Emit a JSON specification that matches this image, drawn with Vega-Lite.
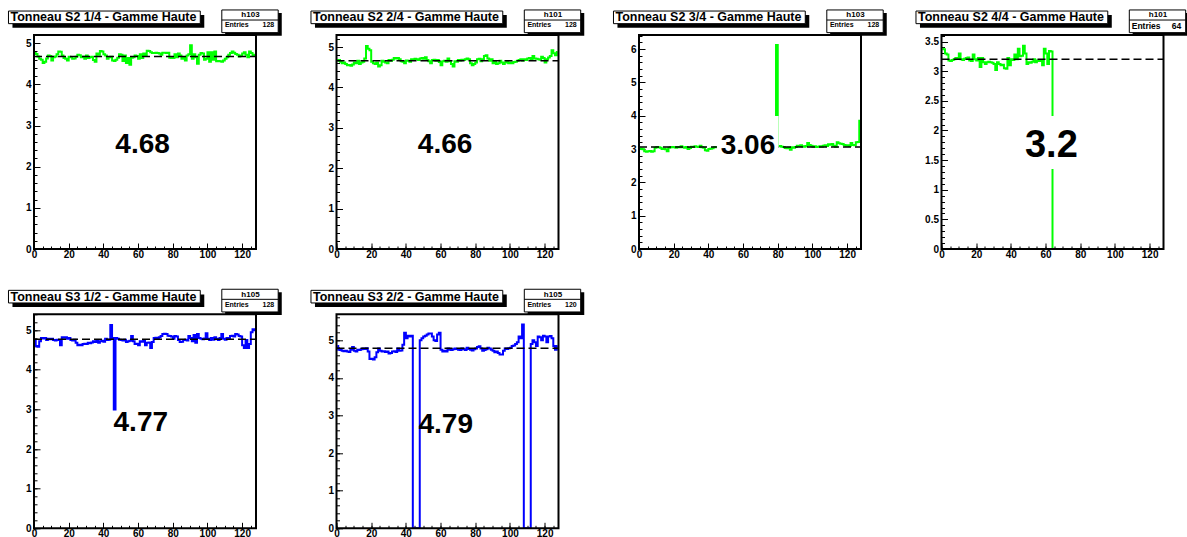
{
"$schema": "https://vega.github.io/schema/vega-lite/v6.json",
"background": "white",
"padding": {"left": 7, "top": 9, "right": 0, "bottom": 0},
"datasets": {
"meta": [
 {"p":1,"title":"Tonneau S2 1/4 - Gamme Haute","hist":"h103","entries":128,"mean":4.68},
 {"p":2,"title":"Tonneau S2 2/4 - Gamme Haute","hist":"h101","entries":128,"mean":4.66},
 {"p":3,"title":"Tonneau S2 3/4 - Gamme Haute","hist":"h103","entries":128,"mean":3.06},
 {"p":4,"title":"Tonneau S2 4/4 - Gamme Haute","hist":"h101","entries":64,"mean":3.2},
 {"p":5,"title":"Tonneau S3 1/2 - Gamme Haute","hist":"h105","entries":128,"mean":4.77},
 {"p":6,"title":"Tonneau S3 2/2 - Gamme Haute","hist":"h105","entries":120,"mean":4.79}
],
"h1": [
{"x":0.5,"v":4.76},{"x":1.5,"v":4.74},{"x":2.5,"v":4.68},{"x":3.5,"v":4.62},{"x":4.5,"v":4.60},{"x":5.5,"v":4.52},{"x":6.5,"v":4.55},{"x":7.5,"v":4.63},{"x":8.5,"v":4.70},{"x":9.5,"v":4.69},
{"x":10.5,"v":4.58},{"x":11.5,"v":4.66},{"x":12.5,"v":4.68},{"x":13.5,"v":4.73},{"x":14.5,"v":4.80},{"x":15.5,"v":4.79},{"x":16.5,"v":4.70},{"x":17.5,"v":4.64},{"x":18.5,"v":4.62},{"x":19.5,"v":4.58},
{"x":20.5,"v":4.67},{"x":21.5,"v":4.66},{"x":22.5,"v":4.62},{"x":23.5,"v":4.63},{"x":24.5,"v":4.67},{"x":25.5,"v":4.72},{"x":26.5,"v":4.71},{"x":27.5,"v":4.66},{"x":28.5,"v":4.67},{"x":29.5,"v":4.62},
{"x":30.5,"v":4.70},{"x":31.5,"v":4.64},{"x":32.5,"v":4.66},{"x":33.5,"v":4.67},{"x":34.5,"v":4.59},{"x":35.5,"v":4.55},{"x":36.5,"v":4.75},{"x":37.5,"v":4.72},{"x":38.5,"v":4.81},{"x":39.5,"v":4.80},
{"x":40.5,"v":4.73},{"x":41.5,"v":4.70},{"x":42.5,"v":4.62},{"x":43.5,"v":4.66},{"x":44.5,"v":4.67},{"x":45.5,"v":4.58},{"x":46.5,"v":4.57},{"x":47.5,"v":4.60},{"x":48.5,"v":4.65},{"x":49.5,"v":4.73},
{"x":50.5,"v":4.72},{"x":51.5,"v":4.57},{"x":52.5,"v":4.70},{"x":53.5,"v":4.52},{"x":54.5,"v":4.64},{"x":55.5,"v":4.48},{"x":56.5,"v":4.65},{"x":57.5,"v":4.66},{"x":58.5,"v":4.70},{"x":59.5,"v":4.69},
{"x":60.5,"v":4.62},{"x":61.5,"v":4.73},{"x":62.5,"v":4.64},{"x":63.5,"v":4.75},{"x":64.5,"v":4.70},{"x":65.5,"v":4.82},{"x":66.5,"v":4.81},{"x":67.5,"v":4.78},{"x":68.5,"v":4.76},{"x":69.5,"v":4.76},
{"x":70.5,"v":4.77},{"x":71.5,"v":4.76},{"x":72.5,"v":4.75},{"x":73.5,"v":4.72},{"x":74.5,"v":4.77},{"x":75.5,"v":4.77},{"x":76.5,"v":4.76},{"x":77.5,"v":4.77},{"x":78.5,"v":4.65},{"x":79.5,"v":4.64},
{"x":80.5,"v":4.64},{"x":81.5,"v":4.73},{"x":82.5,"v":4.66},{"x":83.5,"v":4.75},{"x":84.5,"v":4.70},{"x":85.5,"v":4.62},{"x":86.5,"v":4.66},{"x":87.5,"v":4.58},{"x":88.5,"v":4.70},{"x":89.5,"v":4.73},
{"x":90.5,"v":4.95},{"x":91.5,"v":4.62},{"x":92.5,"v":4.73},{"x":93.5,"v":4.66},{"x":94.5,"v":4.50},{"x":95.5,"v":4.72},{"x":96.5,"v":4.76},{"x":97.5,"v":4.75},{"x":98.5,"v":4.60},{"x":99.5,"v":4.62},
{"x":100.5,"v":4.78},{"x":101.5,"v":4.55},{"x":102.5,"v":4.78},{"x":103.5,"v":4.60},{"x":104.5,"v":4.80},{"x":105.5,"v":4.56},{"x":106.5,"v":4.57},{"x":107.5,"v":4.56},{"x":108.5,"v":4.55},{"x":109.5,"v":4.58},
{"x":110.5,"v":4.62},{"x":111.5,"v":4.66},{"x":112.5,"v":4.72},{"x":113.5,"v":4.76},{"x":114.5,"v":4.80},{"x":115.5,"v":4.77},{"x":116.5,"v":4.74},{"x":117.5,"v":4.72},{"x":118.5,"v":4.68},{"x":119.5,"v":4.70},
{"x":120.5,"v":4.75},{"x":121.5,"v":4.78},{"x":122.5,"v":4.72},{"x":123.5,"v":4.66},{"x":124.5,"v":4.80},{"x":125.5,"v":4.76},{"x":126.5,"v":4.70},{"x":127.5,"v":4.72}
],
"h2": [
{"x":0.5,"v":4.66},{"x":1.5,"v":4.68},{"x":2.5,"v":4.64},{"x":3.5,"v":4.60},{"x":4.5,"v":4.62},{"x":5.5,"v":4.58},{"x":6.5,"v":4.55},{"x":7.5,"v":4.56},{"x":8.5,"v":4.54},{"x":9.5,"v":4.57},
{"x":10.5,"v":4.62},{"x":11.5,"v":4.60},{"x":12.5,"v":4.66},{"x":13.5,"v":4.58},{"x":14.5,"v":4.62},{"x":15.5,"v":4.64},{"x":16.5,"v":4.72},{"x":17.5,"v":5.03},{"x":18.5,"v":4.96},{"x":19.5,"v":4.92},
{"x":20.5,"v":4.64},{"x":21.5,"v":4.60},{"x":22.5,"v":4.58},{"x":23.5,"v":4.62},{"x":24.5,"v":4.52},{"x":25.5,"v":4.55},{"x":26.5,"v":4.66},{"x":27.5,"v":4.64},{"x":28.5,"v":4.62},{"x":29.5,"v":4.60},
{"x":30.5,"v":4.68},{"x":31.5,"v":4.66},{"x":32.5,"v":4.69},{"x":33.5,"v":4.73},{"x":34.5,"v":4.72},{"x":35.5,"v":4.73},{"x":36.5,"v":4.70},{"x":37.5,"v":4.65},{"x":38.5,"v":4.64},{"x":39.5,"v":4.60},
{"x":40.5,"v":4.67},{"x":41.5,"v":4.66},{"x":42.5,"v":4.64},{"x":43.5,"v":4.70},{"x":44.5,"v":4.69},{"x":45.5,"v":4.71},{"x":46.5,"v":4.70},{"x":47.5,"v":4.68},{"x":48.5,"v":4.72},{"x":49.5,"v":4.73},
{"x":50.5,"v":4.71},{"x":51.5,"v":4.75},{"x":52.5,"v":4.68},{"x":53.5,"v":4.65},{"x":54.5,"v":4.60},{"x":55.5,"v":4.68},{"x":56.5,"v":4.69},{"x":57.5,"v":4.66},{"x":58.5,"v":4.68},{"x":59.5,"v":4.63},
{"x":60.5,"v":4.55},{"x":61.5,"v":4.65},{"x":62.5,"v":4.66},{"x":63.5,"v":4.64},{"x":64.5,"v":4.72},{"x":65.5,"v":4.65},{"x":66.5,"v":4.58},{"x":67.5,"v":4.52},{"x":68.5,"v":4.65},{"x":69.5,"v":4.64},
{"x":70.5,"v":4.68},{"x":71.5,"v":4.67},{"x":72.5,"v":4.69},{"x":73.5,"v":4.68},{"x":74.5,"v":4.70},{"x":75.5,"v":4.72},{"x":76.5,"v":4.70},{"x":77.5,"v":4.60},{"x":78.5,"v":4.55},{"x":79.5,"v":4.58},
{"x":80.5,"v":4.62},{"x":81.5,"v":4.70},{"x":82.5,"v":4.71},{"x":83.5,"v":4.65},{"x":84.5,"v":4.70},{"x":85.5,"v":4.78},{"x":86.5,"v":4.80},{"x":87.5,"v":4.72},{"x":88.5,"v":4.66},{"x":89.5,"v":4.70},
{"x":90.5,"v":4.60},{"x":91.5,"v":4.64},{"x":92.5,"v":4.58},{"x":93.5,"v":4.60},{"x":94.5,"v":4.66},{"x":95.5,"v":4.62},{"x":96.5,"v":4.58},{"x":97.5,"v":4.62},{"x":98.5,"v":4.64},{"x":99.5,"v":4.60},
{"x":100.5,"v":4.62},{"x":101.5,"v":4.60},{"x":102.5,"v":4.63},{"x":103.5,"v":4.64},{"x":104.5,"v":4.66},{"x":105.5,"v":4.68},{"x":106.5,"v":4.70},{"x":107.5,"v":4.67},{"x":108.5,"v":4.70},{"x":109.5,"v":4.68},
{"x":110.5,"v":4.72},{"x":111.5,"v":4.73},{"x":112.5,"v":4.70},{"x":113.5,"v":4.78},{"x":114.5,"v":4.72},{"x":115.5,"v":4.71},{"x":116.5,"v":4.70},{"x":117.5,"v":4.69},{"x":118.5,"v":4.76},{"x":119.5,"v":4.73},
{"x":120.5,"v":4.62},{"x":121.5,"v":4.70},{"x":122.5,"v":4.74},{"x":123.5,"v":4.78},{"x":124.5,"v":4.92},{"x":125.5,"v":4.85},{"x":126.5,"v":4.80},{"x":127.5,"v":4.88}
],
"h3": [
{"x":0.5,"v":3.00},{"x":1.5,"v":3.01},{"x":2.5,"v":2.99},{"x":3.5,"v":2.93},{"x":4.5,"v":2.92},{"x":5.5,"v":2.93},{"x":6.5,"v":2.94},{"x":7.5,"v":2.92},{"x":8.5,"v":2.93},{"x":9.5,"v":3.04},
{"x":10.5,"v":3.06},{"x":11.5,"v":3.05},{"x":12.5,"v":3.04},{"x":13.5,"v":3.00},{"x":14.5,"v":3.01},{"x":15.5,"v":2.99},{"x":16.5,"v":2.93},{"x":17.5,"v":3.04},{"x":18.5,"v":3.05},{"x":19.5,"v":3.06},
{"x":20.5,"v":3.05},{"x":21.5,"v":3.04},{"x":22.5,"v":3.06},{"x":23.5,"v":3.05},{"x":24.5,"v":3.08},{"x":25.5,"v":3.05},{"x":26.5,"v":3.04},{"x":27.5,"v":3.06},{"x":28.5,"v":3.00},{"x":29.5,"v":3.03},
{"x":30.5,"v":3.07},{"x":31.5,"v":3.06},{"x":32.5,"v":3.08},{"x":33.5,"v":3.07},{"x":34.5,"v":3.06},{"x":35.5,"v":3.10},{"x":36.5,"v":3.05},{"x":37.5,"v":3.04},{"x":38.5,"v":2.96},{"x":39.5,"v":2.95},
{"x":40.5,"v":3.00},{"x":41.5,"v":3.01},{"x":42.5,"v":3.02},{"x":43.5,"v":3.05},{"x":44.5,"v":3.06},{"x":45.5,"v":3.05},{"x":46.5,"v":3.08},{"x":47.5,"v":3.10},{"x":48.5,"v":3.06},{"x":49.5,"v":3.05},
{"x":50.5,"v":3.04},{"x":51.5,"v":3.06},{"x":52.5,"v":3.05},{"x":53.5,"v":3.07},{"x":54.5,"v":3.05},{"x":55.5,"v":3.04},{"x":56.5,"v":3.06},{"x":57.5,"v":3.08},{"x":58.5,"v":3.05},{"x":59.5,"v":3.04},
{"x":60.5,"v":3.06},{"x":61.5,"v":3.05},{"x":62.5,"v":3.07},{"x":63.5,"v":3.04},{"x":64.5,"v":3.05},{"x":65.5,"v":3.06},{"x":66.5,"v":3.05},{"x":67.5,"v":3.03},{"x":68.5,"v":3.06},{"x":69.5,"v":3.05},
{"x":70.5,"v":3.07},{"x":71.5,"v":3.05},{"x":72.5,"v":3.04},{"x":73.5,"v":3.06},{"x":74.5,"v":3.05},{"x":75.5,"v":3.07},{"x":76.5,"v":3.06},{"x":77.5,"v":3.05},{"x":78.5,"v":3.06},{"x":79.5,"v":6.12},
{"x":80.5,"v":3.08},{"x":81.5,"v":3.09},{"x":82.5,"v":3.07},{"x":83.5,"v":3.06},{"x":84.5,"v":3.03},{"x":85.5,"v":3.02},{"x":86.5,"v":3.04},{"x":87.5,"v":2.98},{"x":88.5,"v":3.05},{"x":89.5,"v":3.04},
{"x":90.5,"v":3.06},{"x":91.5,"v":3.10},{"x":92.5,"v":3.09},{"x":93.5,"v":3.11},{"x":94.5,"v":3.08},{"x":95.5,"v":3.07},{"x":96.5,"v":3.09},{"x":97.5,"v":3.18},{"x":98.5,"v":3.12},{"x":99.5,"v":3.10},
{"x":100.5,"v":3.07},{"x":101.5,"v":3.08},{"x":102.5,"v":3.06},{"x":103.5,"v":3.07},{"x":104.5,"v":3.08},{"x":105.5,"v":3.07},{"x":106.5,"v":3.10},{"x":107.5,"v":3.11},{"x":108.5,"v":3.09},{"x":109.5,"v":3.14},
{"x":110.5,"v":3.13},{"x":111.5,"v":3.15},{"x":112.5,"v":3.10},{"x":113.5,"v":3.07},{"x":114.5,"v":3.20},{"x":115.5,"v":3.17},{"x":116.5,"v":3.16},{"x":117.5,"v":3.15},{"x":118.5,"v":3.12},{"x":119.5,"v":3.10},
{"x":120.5,"v":3.11},{"x":121.5,"v":3.09},{"x":122.5,"v":3.18},{"x":123.5,"v":3.12},{"x":124.5,"v":3.11},{"x":125.5,"v":3.20},{"x":126.5,"v":3.21},{"x":127.5,"v":3.85}
],
"h4": [
{"x":0.5,"v":3.38},{"x":1.5,"v":3.37},{"x":2.5,"v":3.30},{"x":3.5,"v":3.28},{"x":4.5,"v":3.18},{"x":5.5,"v":3.17},{"x":6.5,"v":3.19},{"x":7.5,"v":3.20},{"x":8.5,"v":3.22},{"x":9.5,"v":3.21},
{"x":10.5,"v":3.30},{"x":11.5,"v":3.20},{"x":12.5,"v":3.19},{"x":13.5,"v":3.21},{"x":14.5,"v":3.22},{"x":15.5,"v":3.23},{"x":16.5,"v":3.18},{"x":17.5,"v":3.17},{"x":18.5,"v":3.28},{"x":19.5,"v":3.20},
{"x":20.5,"v":3.18},{"x":21.5,"v":3.22},{"x":22.5,"v":3.07},{"x":23.5,"v":3.22},{"x":24.5,"v":3.15},{"x":25.5,"v":3.12},{"x":26.5,"v":3.15},{"x":27.5,"v":3.16},{"x":28.5,"v":3.15},{"x":29.5,"v":3.14},
{"x":30.5,"v":3.12},{"x":31.5,"v":3.02},{"x":32.5,"v":3.15},{"x":33.5,"v":3.12},{"x":34.5,"v":3.10},{"x":35.5,"v":3.11},{"x":36.5,"v":3.05},{"x":37.5,"v":3.04},{"x":38.5,"v":3.22},{"x":39.5,"v":3.10},
{"x":40.5,"v":3.20},{"x":41.5,"v":3.19},{"x":42.5,"v":3.28},{"x":43.5,"v":3.20},{"x":44.5,"v":3.38},{"x":45.5,"v":3.25},{"x":46.5,"v":3.26},{"x":47.5,"v":3.43},{"x":48.5,"v":3.30},{"x":49.5,"v":3.12},
{"x":50.5,"v":3.15},{"x":51.5,"v":3.14},{"x":52.5,"v":3.16},{"x":53.5,"v":3.20},{"x":54.5,"v":3.15},{"x":55.5,"v":3.18},{"x":56.5,"v":3.17},{"x":57.5,"v":3.18},{"x":58.5,"v":3.10},{"x":59.5,"v":3.38},
{"x":60.5,"v":3.30},{"x":61.5,"v":3.12},{"x":62.5,"v":3.34},{"x":63.5,"v":3.33},
{"x":64.5,"v":0},{"x":65.5,"v":0},{"x":66.5,"v":0},{"x":67.5,"v":0},{"x":68.5,"v":0},{"x":69.5,"v":0},{"x":70.5,"v":0},{"x":71.5,"v":0},{"x":72.5,"v":0},{"x":73.5,"v":0},
{"x":74.5,"v":0},{"x":75.5,"v":0},{"x":76.5,"v":0},{"x":77.5,"v":0},{"x":78.5,"v":0},{"x":79.5,"v":0},{"x":80.5,"v":0},{"x":81.5,"v":0},{"x":82.5,"v":0},{"x":83.5,"v":0},
{"x":84.5,"v":0},{"x":85.5,"v":0},{"x":86.5,"v":0},{"x":87.5,"v":0},{"x":88.5,"v":0},{"x":89.5,"v":0},{"x":90.5,"v":0},{"x":91.5,"v":0},{"x":92.5,"v":0},{"x":93.5,"v":0},
{"x":94.5,"v":0},{"x":95.5,"v":0},{"x":96.5,"v":0},{"x":97.5,"v":0},{"x":98.5,"v":0},{"x":99.5,"v":0},{"x":100.5,"v":0},{"x":101.5,"v":0},{"x":102.5,"v":0},{"x":103.5,"v":0},
{"x":104.5,"v":0},{"x":105.5,"v":0},{"x":106.5,"v":0},{"x":107.5,"v":0},{"x":108.5,"v":0},{"x":109.5,"v":0},{"x":110.5,"v":0},{"x":111.5,"v":0},{"x":112.5,"v":0},{"x":113.5,"v":0},
{"x":114.5,"v":0},{"x":115.5,"v":0},{"x":116.5,"v":0},{"x":117.5,"v":0},{"x":118.5,"v":0},{"x":119.5,"v":0},{"x":120.5,"v":0},{"x":121.5,"v":0},{"x":122.5,"v":0},{"x":123.5,"v":0},
{"x":124.5,"v":0},{"x":125.5,"v":0},{"x":126.5,"v":0},{"x":127.5,"v":0}
],
"h5": [
{"x":0.5,"v":4.75},{"x":1.5,"v":4.60},{"x":2.5,"v":4.58},{"x":3.5,"v":4.72},{"x":4.5,"v":4.80},{"x":5.5,"v":4.79},{"x":6.5,"v":4.80},{"x":7.5,"v":4.75},{"x":8.5,"v":4.78},{"x":9.5,"v":4.77},
{"x":10.5,"v":4.78},{"x":11.5,"v":4.75},{"x":12.5,"v":4.74},{"x":13.5,"v":4.76},{"x":14.5,"v":4.75},{"x":15.5,"v":4.62},{"x":16.5,"v":4.82},{"x":17.5,"v":4.81},{"x":18.5,"v":4.82},{"x":19.5,"v":4.78},
{"x":20.5,"v":4.80},{"x":21.5,"v":4.75},{"x":22.5,"v":4.74},{"x":23.5,"v":4.76},{"x":24.5,"v":4.68},{"x":25.5,"v":4.62},{"x":26.5,"v":4.63},{"x":27.5,"v":4.62},{"x":28.5,"v":4.65},{"x":29.5,"v":4.66},
{"x":30.5,"v":4.65},{"x":31.5,"v":4.68},{"x":32.5,"v":4.67},{"x":33.5,"v":4.69},{"x":34.5,"v":4.72},{"x":35.5,"v":4.70},{"x":36.5,"v":4.75},{"x":37.5,"v":4.68},{"x":38.5,"v":4.72},{"x":39.5,"v":4.73},
{"x":40.5,"v":4.71},{"x":41.5,"v":4.78},{"x":42.5,"v":4.75},{"x":43.5,"v":4.76},{"x":44.5,"v":5.13},{"x":45.5,"v":4.80},{"x":46.5,"v":3.00},{"x":47.5,"v":4.80},{"x":48.5,"v":4.78},{"x":49.5,"v":4.76},
{"x":50.5,"v":4.75},{"x":51.5,"v":4.74},{"x":52.5,"v":4.76},{"x":53.5,"v":4.70},{"x":54.5,"v":4.72},{"x":55.5,"v":4.73},{"x":56.5,"v":4.85},{"x":57.5,"v":4.72},{"x":58.5,"v":4.65},{"x":59.5,"v":4.66},
{"x":60.5,"v":4.62},{"x":61.5,"v":4.72},{"x":62.5,"v":4.71},{"x":63.5,"v":4.73},{"x":64.5,"v":4.62},{"x":65.5,"v":4.68},{"x":66.5,"v":4.69},{"x":67.5,"v":4.55},{"x":68.5,"v":4.70},{"x":69.5,"v":4.80},
{"x":70.5,"v":4.81},{"x":71.5,"v":4.80},{"x":72.5,"v":4.82},{"x":73.5,"v":4.85},{"x":74.5,"v":4.90},{"x":75.5,"v":4.91},{"x":76.5,"v":4.90},{"x":77.5,"v":4.86},{"x":78.5,"v":4.85},{"x":79.5,"v":4.84},
{"x":80.5,"v":4.78},{"x":81.5,"v":4.85},{"x":82.5,"v":4.84},{"x":83.5,"v":4.75},{"x":84.5,"v":4.70},{"x":85.5,"v":4.71},{"x":86.5,"v":4.75},{"x":87.5,"v":4.76},{"x":88.5,"v":4.74},{"x":89.5,"v":4.85},
{"x":90.5,"v":4.80},{"x":91.5,"v":4.72},{"x":92.5,"v":4.88},{"x":93.5,"v":4.68},{"x":94.5,"v":4.90},{"x":95.5,"v":4.80},{"x":96.5,"v":4.78},{"x":97.5,"v":4.77},{"x":98.5,"v":4.79},{"x":99.5,"v":4.92},
{"x":100.5,"v":4.78},{"x":101.5,"v":4.75},{"x":102.5,"v":4.80},{"x":103.5,"v":4.76},{"x":104.5,"v":4.82},{"x":105.5,"v":4.78},{"x":106.5,"v":4.75},{"x":107.5,"v":4.80},{"x":108.5,"v":4.90},{"x":109.5,"v":4.78},
{"x":110.5,"v":4.76},{"x":111.5,"v":4.80},{"x":112.5,"v":4.78},{"x":113.5,"v":4.85},{"x":114.5,"v":4.86},{"x":115.5,"v":4.84},{"x":116.5,"v":4.90},{"x":117.5,"v":4.89},{"x":118.5,"v":4.85},{"x":119.5,"v":4.84},
{"x":120.5,"v":4.62},{"x":121.5,"v":4.55},{"x":122.5,"v":4.75},{"x":123.5,"v":4.55},{"x":124.5,"v":4.65},{"x":125.5,"v":4.95},{"x":126.5,"v":5.02},{"x":127.5,"v":5.00}
],
"h6": [
{"x":0.5,"v":4.85},{"x":1.5,"v":4.75},{"x":2.5,"v":4.74},{"x":3.5,"v":4.72},{"x":4.5,"v":4.71},{"x":5.5,"v":4.72},{"x":6.5,"v":4.70},{"x":7.5,"v":4.69},{"x":8.5,"v":4.75},{"x":9.5,"v":4.82},
{"x":10.5,"v":4.72},{"x":11.5,"v":4.70},{"x":12.5,"v":4.75},{"x":13.5,"v":4.74},{"x":14.5,"v":4.76},{"x":15.5,"v":4.78},{"x":16.5,"v":4.77},{"x":17.5,"v":4.79},{"x":18.5,"v":4.70},{"x":19.5,"v":4.50},
{"x":20.5,"v":4.51},{"x":21.5,"v":4.49},{"x":22.5,"v":4.55},{"x":23.5,"v":4.68},{"x":24.5,"v":4.78},{"x":25.5,"v":4.72},{"x":26.5,"v":4.70},{"x":27.5,"v":4.71},{"x":28.5,"v":4.69},{"x":29.5,"v":4.70},
{"x":30.5,"v":4.65},{"x":31.5,"v":4.66},{"x":32.5,"v":4.70},{"x":33.5,"v":4.71},{"x":34.5,"v":4.69},{"x":35.5,"v":4.78},{"x":36.5,"v":4.72},{"x":37.5,"v":4.73},{"x":38.5,"v":4.88},{"x":39.5,"v":5.20},
{"x":40.5,"v":5.05},{"x":41.5,"v":5.12},{"x":42.5,"v":5.10},{"x":43.5,"v":5.12},{"x":44.5,"v":0},{"x":45.5,"v":0},{"x":46.5,"v":0},{"x":47.5,"v":0},{"x":48.5,"v":5.00},{"x":49.5,"v":5.05},
{"x":50.5,"v":5.10},{"x":51.5,"v":5.12},{"x":52.5,"v":5.15},{"x":53.5,"v":5.18},{"x":54.5,"v":5.18},{"x":55.5,"v":5.10},{"x":56.5,"v":5.00},{"x":57.5,"v":4.98},{"x":58.5,"v":5.15},{"x":59.5,"v":5.20},
{"x":60.5,"v":4.75},{"x":61.5,"v":4.70},{"x":62.5,"v":4.72},{"x":63.5,"v":4.70},{"x":64.5,"v":4.78},{"x":65.5,"v":4.75},{"x":66.5,"v":4.74},{"x":67.5,"v":4.76},{"x":68.5,"v":4.78},{"x":69.5,"v":4.77},
{"x":70.5,"v":4.75},{"x":71.5,"v":4.74},{"x":72.5,"v":4.78},{"x":73.5,"v":4.76},{"x":74.5,"v":4.74},{"x":75.5,"v":4.80},{"x":76.5,"v":4.77},{"x":77.5,"v":4.75},{"x":78.5,"v":4.73},{"x":79.5,"v":4.76},
{"x":80.5,"v":4.78},{"x":81.5,"v":4.82},{"x":82.5,"v":4.84},{"x":83.5,"v":4.78},{"x":84.5,"v":4.72},{"x":85.5,"v":4.74},{"x":86.5,"v":4.76},{"x":87.5,"v":4.80},{"x":88.5,"v":4.78},{"x":89.5,"v":4.75},
{"x":90.5,"v":4.72},{"x":91.5,"v":4.68},{"x":92.5,"v":4.70},{"x":93.5,"v":4.66},{"x":94.5,"v":4.62},{"x":95.5,"v":4.62},{"x":96.5,"v":4.72},{"x":97.5,"v":4.78},{"x":98.5,"v":4.77},{"x":99.5,"v":4.79},
{"x":100.5,"v":4.80},{"x":101.5,"v":4.85},{"x":102.5,"v":4.86},{"x":103.5,"v":4.90},{"x":104.5,"v":4.95},{"x":105.5,"v":5.10},{"x":106.5,"v":5.05},{"x":107.5,"v":5.42},{"x":108.5,"v":0},{"x":109.5,"v":0},
{"x":110.5,"v":0},{"x":111.5,"v":0},{"x":112.5,"v":4.90},{"x":113.5,"v":5.00},{"x":114.5,"v":4.95},{"x":115.5,"v":4.85},{"x":116.5,"v":5.10},{"x":117.5,"v":5.08},{"x":118.5,"v":5.00},{"x":119.5,"v":5.12},
{"x":120.5,"v":5.10},{"x":121.5,"v":4.95},{"x":122.5,"v":5.10},{"x":123.5,"v":5.11},{"x":124.5,"v":5.05},{"x":125.5,"v":4.85},{"x":126.5,"v":4.75},{"x":127.5,"v":4.85}
]
},
"columns": 4,
"spacing": {"row": 65.3, "column": 80.5},
"bounds": "flush",
"concat": [
{
 "width": 222, "height": 214,
 "layer": [
  {"layer": [
    {"data": {"name": "h1"},
     "mark": {"type": "line", "interpolate": "step", "color": "#00ff00", "strokeWidth": 2, "clip": true},
     "encoding": {
      "x": {"field": "x", "type": "quantitative", "scale": {"domain": [0, 128], "nice": false, "zero": false}, "axis": {"title": null, "orient": "bottom", "values": [0,20,40,60,80,100,120], "tickSize": -6, "labelPadding": 6, "format": "d"}},
      "y": {"field": "v", "type": "quantitative", "scale": {"domain": [0, 5.2], "nice": false}, "axis": {"title": null, "orient": "left", "values": [0,1,2,3,4,5], "tickSize": -6, "labelPadding": 9, "format": "~g"}}}},
    {"data": {"name": "meta"}, "transform": [{"filter": "datum.p == 1"}],
     "mark": {"type": "rule", "strokeDash": [8, 4], "strokeWidth": 1.5, "color": "black"},
     "encoding": {
      "x": {"datum": 0, "type": "quantitative", "scale": {"domain": [0, 128], "nice": false, "zero": false}, "axis": {"title": null, "orient": "bottom", "values": [0,5,10,15,20,25,30,35,40,45,50,55,60,65,70,75,80,85,90,95,100,105,110,115,120,125], "tickSize": -3, "labels": false}},
      "x2": {"datum": 128},
      "y": {"field": "mean", "type": "quantitative", "scale": {"domain": [0, 5.2], "nice": false}, "axis": {"title": null, "orient": "left", "values": [0,0.2,0.4,0.6,0.8,1,1.2,1.4,1.6,1.8,2,2.2,2.4,2.6,2.8,3,3.2,3.4,3.6,3.8,4,4.2,4.4,4.6,4.8,5], "tickSize": -3, "labels": false}}}}
   ],
   "resolve": {"axis": {"x": "independent", "y": "independent"}}},
  {"data": {"name": "meta"}, "transform": [{"filter": "datum.p == 1"}],
   "layer": [
    {"mark": {"type": "rect", "filled": false, "stroke": "black", "strokeWidth": 2},
     "encoding": {"x": {"datum": 0, "type": "quantitative", "scale": {"domain": [0, 1], "nice": false, "zero": false}, "axis": null}, "x2": {"datum": 1}, "y": {"datum": 0, "type": "quantitative", "scale": {"domain": [0, 1], "nice": false, "zero": false}, "axis": null}, "y2": {"datum": 1}}},
    {"mark": {"type": "text", "fontSize": 28, "fontWeight": "bold", "align": "center", "baseline": "middle"},
     "encoding": {"x": {"datum": 0.489, "type": "quantitative"}, "y": {"datum": 0.485, "type": "quantitative"}, "text": {"field": "mean", "type": "quantitative"}}},
    {"mark": {"type": "rect", "color": "black"},
     "encoding": {"x": {"datum": -0.097, "type": "quantitative"}, "x2": {"datum": 0.767}, "y": {"datum": 1.034, "type": "quantitative"}, "y2": {"datum": 1.093}}},
    {"mark": {"type": "rect", "fill": "white", "stroke": "black", "strokeWidth": 1},
     "encoding": {"x": {"datum": -0.115, "type": "quantitative"}, "x2": {"datum": 0.749}, "y": {"datum": 1.053, "type": "quantitative"}, "y2": {"datum": 1.112}}},
    {"mark": {"type": "text", "fontSize": 12.5, "fontWeight": "bold", "align": "left", "baseline": "middle"},
     "encoding": {"x": {"datum": -0.106, "type": "quantitative"}, "y": {"datum": 1.082, "type": "quantitative"}, "text": {"field": "title"}}},
    {"mark": {"type": "rect", "color": "black"},
     "encoding": {"x": {"datum": 0.861, "type": "quantitative"}, "x2": {"datum": 1.116}, "y": {"datum": 0.997, "type": "quantitative"}, "y2": {"datum": 1.103}}},
    {"mark": {"type": "rect", "fill": "white", "stroke": "black", "strokeWidth": 1},
     "encoding": {"x": {"datum": 0.846, "type": "quantitative"}, "x2": {"datum": 1.1}, "y": {"datum": 1.011, "type": "quantitative"}, "y2": {"datum": 1.117}}},
    {"mark": {"type": "rule", "color": "black", "strokeWidth": 1},
     "encoding": {"x": {"datum": 0.846, "type": "quantitative"}, "x2": {"datum": 1.1}, "y": {"datum": 1.07, "type": "quantitative"}}},
    {"mark": {"type": "text", "fontSize": 8, "fontWeight": "bold", "align": "center", "baseline": "middle"},
     "encoding": {"x": {"datum": 0.975, "type": "quantitative"}, "y": {"datum": 1.092, "type": "quantitative"}, "text": {"field": "hist"}}},
    {"mark": {"type": "text", "fontSize": 7, "fontWeight": "bold", "align": "left", "baseline": "middle", "text": "Entries"},
     "encoding": {"x": {"datum": 0.86, "type": "quantitative"}, "y": {"datum": 1.045, "type": "quantitative"}}},
    {"mark": {"type": "text", "fontSize": 7, "fontWeight": "bold", "align": "right", "baseline": "middle"},
     "encoding": {"x": {"datum": 1.082, "type": "quantitative"}, "y": {"datum": 1.045, "type": "quantitative"}, "text": {"field": "entries", "type": "quantitative"}}}
   ]}
 ],
 "resolve": {"scale": {"x": "independent", "y": "independent"}}
},
{
 "width": 222, "height": 214,
 "layer": [
  {"layer": [
    {"data": {"name": "h2"},
     "mark": {"type": "line", "interpolate": "step", "color": "#00ff00", "strokeWidth": 2, "clip": true},
     "encoding": {
      "x": {"field": "x", "type": "quantitative", "scale": {"domain": [0, 128], "nice": false, "zero": false}, "axis": {"title": null, "orient": "bottom", "values": [0,20,40,60,80,100,120], "tickSize": -6, "labelPadding": 6, "format": "d"}},
      "y": {"field": "v", "type": "quantitative", "scale": {"domain": [0, 5.3], "nice": false}, "axis": {"title": null, "orient": "left", "values": [0,1,2,3,4,5], "tickSize": -6, "labelPadding": 9, "format": "~g"}}}},
    {"data": {"name": "meta"}, "transform": [{"filter": "datum.p == 2"}],
     "mark": {"type": "rule", "strokeDash": [8, 4], "strokeWidth": 1.5, "color": "black"},
     "encoding": {
      "x": {"datum": 0, "type": "quantitative", "scale": {"domain": [0, 128], "nice": false, "zero": false}, "axis": {"title": null, "orient": "bottom", "values": [0,5,10,15,20,25,30,35,40,45,50,55,60,65,70,75,80,85,90,95,100,105,110,115,120,125], "tickSize": -3, "labels": false}},
      "x2": {"datum": 128},
      "y": {"field": "mean", "type": "quantitative", "scale": {"domain": [0, 5.3], "nice": false}, "axis": {"title": null, "orient": "left", "values": [0,0.2,0.4,0.6,0.8,1,1.2,1.4,1.6,1.8,2,2.2,2.4,2.6,2.8,3,3.2,3.4,3.6,3.8,4,4.2,4.4,4.6,4.8,5,5.2], "tickSize": -3, "labels": false}}}}
   ],
   "resolve": {"axis": {"x": "independent", "y": "independent"}}},
  {"data": {"name": "meta"}, "transform": [{"filter": "datum.p == 2"}],
   "layer": [
    {"mark": {"type": "rect", "filled": false, "stroke": "black", "strokeWidth": 2},
     "encoding": {"x": {"datum": 0, "type": "quantitative", "scale": {"domain": [0, 1], "nice": false, "zero": false}, "axis": null}, "x2": {"datum": 1}, "y": {"datum": 0, "type": "quantitative", "scale": {"domain": [0, 1], "nice": false, "zero": false}, "axis": null}, "y2": {"datum": 1}}},
    {"mark": {"type": "text", "fontSize": 28, "fontWeight": "bold", "align": "center", "baseline": "middle"},
     "encoding": {"x": {"datum": 0.489, "type": "quantitative"}, "y": {"datum": 0.485, "type": "quantitative"}, "text": {"field": "mean", "type": "quantitative"}}},
    {"mark": {"type": "rect", "color": "black"},
     "encoding": {"x": {"datum": -0.097, "type": "quantitative"}, "x2": {"datum": 0.767}, "y": {"datum": 1.034, "type": "quantitative"}, "y2": {"datum": 1.093}}},
    {"mark": {"type": "rect", "fill": "white", "stroke": "black", "strokeWidth": 1},
     "encoding": {"x": {"datum": -0.115, "type": "quantitative"}, "x2": {"datum": 0.749}, "y": {"datum": 1.053, "type": "quantitative"}, "y2": {"datum": 1.112}}},
    {"mark": {"type": "text", "fontSize": 12.5, "fontWeight": "bold", "align": "left", "baseline": "middle"},
     "encoding": {"x": {"datum": -0.106, "type": "quantitative"}, "y": {"datum": 1.082, "type": "quantitative"}, "text": {"field": "title"}}},
    {"mark": {"type": "rect", "color": "black"},
     "encoding": {"x": {"datum": 0.861, "type": "quantitative"}, "x2": {"datum": 1.116}, "y": {"datum": 0.997, "type": "quantitative"}, "y2": {"datum": 1.103}}},
    {"mark": {"type": "rect", "fill": "white", "stroke": "black", "strokeWidth": 1},
     "encoding": {"x": {"datum": 0.846, "type": "quantitative"}, "x2": {"datum": 1.1}, "y": {"datum": 1.011, "type": "quantitative"}, "y2": {"datum": 1.117}}},
    {"mark": {"type": "rule", "color": "black", "strokeWidth": 1},
     "encoding": {"x": {"datum": 0.846, "type": "quantitative"}, "x2": {"datum": 1.1}, "y": {"datum": 1.07, "type": "quantitative"}}},
    {"mark": {"type": "text", "fontSize": 8, "fontWeight": "bold", "align": "center", "baseline": "middle"},
     "encoding": {"x": {"datum": 0.975, "type": "quantitative"}, "y": {"datum": 1.092, "type": "quantitative"}, "text": {"field": "hist"}}},
    {"mark": {"type": "text", "fontSize": 7, "fontWeight": "bold", "align": "left", "baseline": "middle", "text": "Entries"},
     "encoding": {"x": {"datum": 0.86, "type": "quantitative"}, "y": {"datum": 1.045, "type": "quantitative"}}},
    {"mark": {"type": "text", "fontSize": 7, "fontWeight": "bold", "align": "right", "baseline": "middle"},
     "encoding": {"x": {"datum": 1.082, "type": "quantitative"}, "y": {"datum": 1.045, "type": "quantitative"}, "text": {"field": "entries", "type": "quantitative"}}}
   ]}
 ],
 "resolve": {"scale": {"x": "independent", "y": "independent"}}
},
{
 "width": 222, "height": 214,
 "layer": [
  {"layer": [
    {"data": {"name": "h3"},
     "mark": {"type": "line", "interpolate": "step", "color": "#00ff00", "strokeWidth": 2, "clip": true},
     "encoding": {
      "x": {"field": "x", "type": "quantitative", "scale": {"domain": [0, 128], "nice": false, "zero": false}, "axis": {"title": null, "orient": "bottom", "values": [0,20,40,60,80,100,120], "tickSize": -6, "labelPadding": 6, "format": "d"}},
      "y": {"field": "v", "type": "quantitative", "scale": {"domain": [0, 6.42], "nice": false}, "axis": {"title": null, "orient": "left", "values": [0,1,2,3,4,5,6], "tickSize": -6, "labelPadding": 9, "format": "~g"}}}},
    {"data": {"name": "meta"}, "transform": [{"filter": "datum.p == 3"}],
     "mark": {"type": "rule", "strokeDash": [8, 4], "strokeWidth": 1.5, "color": "black"},
     "encoding": {
      "x": {"datum": 0, "type": "quantitative", "scale": {"domain": [0, 128], "nice": false, "zero": false}, "axis": {"title": null, "orient": "bottom", "values": [0,5,10,15,20,25,30,35,40,45,50,55,60,65,70,75,80,85,90,95,100,105,110,115,120,125], "tickSize": -3, "labels": false}},
      "x2": {"datum": 128},
      "y": {"field": "mean", "type": "quantitative", "scale": {"domain": [0, 6.42], "nice": false}, "axis": {"title": null, "orient": "left", "values": [0,0.2,0.4,0.6,0.8,1,1.2,1.4,1.6,1.8,2,2.2,2.4,2.6,2.8,3,3.2,3.4,3.6,3.8,4,4.2,4.4,4.6,4.8,5,5.2,5.4,5.6,5.8,6,6.2,6.4], "tickSize": -3, "labels": false}}}}
   ],
   "resolve": {"axis": {"x": "independent", "y": "independent"}}},
  {"data": {"name": "meta"}, "transform": [{"filter": "datum.p == 3"}],
   "layer": [
    {"mark": {"type": "rect", "filled": false, "stroke": "black", "strokeWidth": 2},
     "encoding": {"x": {"datum": 0, "type": "quantitative", "scale": {"domain": [0, 1], "nice": false, "zero": false}, "axis": null}, "x2": {"datum": 1}, "y": {"datum": 0, "type": "quantitative", "scale": {"domain": [0, 1], "nice": false, "zero": false}, "axis": null}, "y2": {"datum": 1}}},
    {"mark": {"type": "rect", "fill": "white"},
     "encoding": {"x": {"datum": 0.351, "type": "quantitative"}, "x2": {"datum": 0.629}, "y": {"datum": 0.374, "type": "quantitative"}, "y2": {"datum": 0.622}}},
    {"mark": {"type": "text", "fontSize": 28, "fontWeight": "bold", "align": "center", "baseline": "middle"},
     "encoding": {"x": {"datum": 0.491, "type": "quantitative"}, "y": {"datum": 0.48, "type": "quantitative"}, "text": {"field": "mean", "type": "quantitative"}}},
    {"mark": {"type": "rect", "color": "black"},
     "encoding": {"x": {"datum": -0.097, "type": "quantitative"}, "x2": {"datum": 0.767}, "y": {"datum": 1.034, "type": "quantitative"}, "y2": {"datum": 1.093}}},
    {"mark": {"type": "rect", "fill": "white", "stroke": "black", "strokeWidth": 1},
     "encoding": {"x": {"datum": -0.115, "type": "quantitative"}, "x2": {"datum": 0.749}, "y": {"datum": 1.053, "type": "quantitative"}, "y2": {"datum": 1.112}}},
    {"mark": {"type": "text", "fontSize": 12.5, "fontWeight": "bold", "align": "left", "baseline": "middle"},
     "encoding": {"x": {"datum": -0.106, "type": "quantitative"}, "y": {"datum": 1.082, "type": "quantitative"}, "text": {"field": "title"}}},
    {"mark": {"type": "rect", "color": "black"},
     "encoding": {"x": {"datum": 0.861, "type": "quantitative"}, "x2": {"datum": 1.116}, "y": {"datum": 0.997, "type": "quantitative"}, "y2": {"datum": 1.103}}},
    {"mark": {"type": "rect", "fill": "white", "stroke": "black", "strokeWidth": 1},
     "encoding": {"x": {"datum": 0.846, "type": "quantitative"}, "x2": {"datum": 1.1}, "y": {"datum": 1.011, "type": "quantitative"}, "y2": {"datum": 1.117}}},
    {"mark": {"type": "rule", "color": "black", "strokeWidth": 1},
     "encoding": {"x": {"datum": 0.846, "type": "quantitative"}, "x2": {"datum": 1.1}, "y": {"datum": 1.07, "type": "quantitative"}}},
    {"mark": {"type": "text", "fontSize": 8, "fontWeight": "bold", "align": "center", "baseline": "middle"},
     "encoding": {"x": {"datum": 0.975, "type": "quantitative"}, "y": {"datum": 1.092, "type": "quantitative"}, "text": {"field": "hist"}}},
    {"mark": {"type": "text", "fontSize": 7, "fontWeight": "bold", "align": "left", "baseline": "middle", "text": "Entries"},
     "encoding": {"x": {"datum": 0.86, "type": "quantitative"}, "y": {"datum": 1.045, "type": "quantitative"}}},
    {"mark": {"type": "text", "fontSize": 7, "fontWeight": "bold", "align": "right", "baseline": "middle"},
     "encoding": {"x": {"datum": 1.082, "type": "quantitative"}, "y": {"datum": 1.045, "type": "quantitative"}, "text": {"field": "entries", "type": "quantitative"}}}
   ]}
 ],
 "resolve": {"scale": {"x": "independent", "y": "independent"}}
},
{
 "width": 222, "height": 214,
 "layer": [
  {"layer": [
    {"data": {"name": "h4"},
     "mark": {"type": "line", "interpolate": "step", "color": "#00ff00", "strokeWidth": 2, "clip": true},
     "encoding": {
      "x": {"field": "x", "type": "quantitative", "scale": {"domain": [0, 128], "nice": false, "zero": false}, "axis": {"title": null, "orient": "bottom", "values": [0,20,40,60,80,100,120], "tickSize": -6, "labelPadding": 6, "format": "d"}},
      "y": {"field": "v", "type": "quantitative", "scale": {"domain": [0, 3.61], "nice": false}, "axis": {"title": null, "orient": "left", "values": [0,0.5,1,1.5,2,2.5,3,3.5], "tickSize": -6, "labelPadding": 9, "format": "~g"}}}},
    {"data": {"name": "meta"}, "transform": [{"filter": "datum.p == 4"}],
     "mark": {"type": "rule", "strokeDash": [8, 4], "strokeWidth": 1.5, "color": "black"},
     "encoding": {
      "x": {"datum": 0, "type": "quantitative", "scale": {"domain": [0, 128], "nice": false, "zero": false}, "axis": {"title": null, "orient": "bottom", "values": [0,5,10,15,20,25,30,35,40,45,50,55,60,65,70,75,80,85,90,95,100,105,110,115,120,125], "tickSize": -3, "labels": false}},
      "x2": {"datum": 128},
      "y": {"field": "mean", "type": "quantitative", "scale": {"domain": [0, 3.61], "nice": false}, "axis": {"title": null, "orient": "left", "values": [0,0.1,0.2,0.3,0.4,0.5,0.6,0.7,0.8,0.9,1,1.1,1.2,1.3,1.4,1.5,1.6,1.7,1.8,1.9,2,2.1,2.2,2.3,2.4,2.5,2.6,2.7,2.8,2.9,3,3.1,3.2,3.3,3.4,3.5,3.6], "tickSize": -3, "labels": false}}}}
   ],
   "resolve": {"axis": {"x": "independent", "y": "independent"}}},
  {"data": {"name": "meta"}, "transform": [{"filter": "datum.p == 4"}],
   "layer": [
    {"mark": {"type": "rect", "filled": false, "stroke": "black", "strokeWidth": 2},
     "encoding": {"x": {"datum": 0, "type": "quantitative", "scale": {"domain": [0, 1], "nice": false, "zero": false}, "axis": null}, "x2": {"datum": 1}, "y": {"datum": 0, "type": "quantitative", "scale": {"domain": [0, 1], "nice": false, "zero": false}, "axis": null}, "y2": {"datum": 1}}},
    {"mark": {"type": "rect", "fill": "white"},
     "encoding": {"x": {"datum": 0.363, "type": "quantitative"}, "x2": {"datum": 0.63}, "y": {"datum": 0.374, "type": "quantitative"}, "y2": {"datum": 0.622}}},
    {"mark": {"type": "text", "fontSize": 38, "fontWeight": "bold", "align": "center", "baseline": "middle"},
     "encoding": {"x": {"datum": 0.495, "type": "quantitative"}, "y": {"datum": 0.483, "type": "quantitative"}, "text": {"field": "mean", "type": "quantitative"}}},
    {"mark": {"type": "rect", "color": "black"},
     "encoding": {"x": {"datum": -0.097, "type": "quantitative"}, "x2": {"datum": 0.767}, "y": {"datum": 1.034, "type": "quantitative"}, "y2": {"datum": 1.093}}},
    {"mark": {"type": "rect", "fill": "white", "stroke": "black", "strokeWidth": 1},
     "encoding": {"x": {"datum": -0.115, "type": "quantitative"}, "x2": {"datum": 0.749}, "y": {"datum": 1.053, "type": "quantitative"}, "y2": {"datum": 1.112}}},
    {"mark": {"type": "text", "fontSize": 12.5, "fontWeight": "bold", "align": "left", "baseline": "middle"},
     "encoding": {"x": {"datum": -0.106, "type": "quantitative"}, "y": {"datum": 1.082, "type": "quantitative"}, "text": {"field": "title"}}},
    {"mark": {"type": "rect", "color": "black"},
     "encoding": {"x": {"datum": 0.861, "type": "quantitative"}, "x2": {"datum": 1.116}, "y": {"datum": 0.997, "type": "quantitative"}, "y2": {"datum": 1.103}}},
    {"mark": {"type": "rect", "fill": "white", "stroke": "black", "strokeWidth": 1},
     "encoding": {"x": {"datum": 0.846, "type": "quantitative"}, "x2": {"datum": 1.1}, "y": {"datum": 1.011, "type": "quantitative"}, "y2": {"datum": 1.117}}},
    {"mark": {"type": "rule", "color": "black", "strokeWidth": 1},
     "encoding": {"x": {"datum": 0.846, "type": "quantitative"}, "x2": {"datum": 1.1}, "y": {"datum": 1.07, "type": "quantitative"}}},
    {"mark": {"type": "text", "fontSize": 8, "fontWeight": "bold", "align": "center", "baseline": "middle"},
     "encoding": {"x": {"datum": 0.975, "type": "quantitative"}, "y": {"datum": 1.092, "type": "quantitative"}, "text": {"field": "hist"}}},
    {"mark": {"type": "text", "fontSize": 8.5, "fontWeight": "bold", "align": "left", "baseline": "middle", "text": "Entries"},
     "encoding": {"x": {"datum": 0.857, "type": "quantitative"}, "y": {"datum": 1.043, "type": "quantitative"}}},
    {"mark": {"type": "text", "fontSize": 8.5, "fontWeight": "bold", "align": "right", "baseline": "middle"},
     "encoding": {"x": {"datum": 1.08, "type": "quantitative"}, "y": {"datum": 1.043, "type": "quantitative"}, "text": {"field": "entries", "type": "quantitative"}}}
   ]}
 ],
 "resolve": {"scale": {"x": "independent", "y": "independent"}}
},
{
 "width": 222, "height": 214,
 "layer": [
  {"layer": [
    {"data": {"name": "h5"},
     "mark": {"type": "line", "interpolate": "step", "color": "#0000ff", "strokeWidth": 2, "clip": true},
     "encoding": {
      "x": {"field": "x", "type": "quantitative", "scale": {"domain": [0, 128], "nice": false, "zero": false}, "axis": {"title": null, "orient": "bottom", "values": [0,20,40,60,80,100,120], "tickSize": -6, "labelPadding": 6, "format": "d"}},
      "y": {"field": "v", "type": "quantitative", "scale": {"domain": [0, 5.4], "nice": false}, "axis": {"title": null, "orient": "left", "values": [0,1,2,3,4,5], "tickSize": -6, "labelPadding": 9, "format": "~g"}}}},
    {"data": {"name": "meta"}, "transform": [{"filter": "datum.p == 5"}],
     "mark": {"type": "rule", "strokeDash": [8, 4], "strokeWidth": 1.5, "color": "black"},
     "encoding": {
      "x": {"datum": 0, "type": "quantitative", "scale": {"domain": [0, 128], "nice": false, "zero": false}, "axis": {"title": null, "orient": "bottom", "values": [0,5,10,15,20,25,30,35,40,45,50,55,60,65,70,75,80,85,90,95,100,105,110,115,120,125], "tickSize": -3, "labels": false}},
      "x2": {"datum": 128},
      "y": {"field": "mean", "type": "quantitative", "scale": {"domain": [0, 5.4], "nice": false}, "axis": {"title": null, "orient": "left", "values": [0,0.2,0.4,0.6,0.8,1,1.2,1.4,1.6,1.8,2,2.2,2.4,2.6,2.8,3,3.2,3.4,3.6,3.8,4,4.2,4.4,4.6,4.8,5,5.2,5.4], "tickSize": -3, "labels": false}}}}
   ],
   "resolve": {"axis": {"x": "independent", "y": "independent"}}},
  {"data": {"name": "meta"}, "transform": [{"filter": "datum.p == 5"}],
   "layer": [
    {"mark": {"type": "rect", "filled": false, "stroke": "black", "strokeWidth": 2},
     "encoding": {"x": {"datum": 0, "type": "quantitative", "scale": {"domain": [0, 1], "nice": false, "zero": false}, "axis": null}, "x2": {"datum": 1}, "y": {"datum": 0, "type": "quantitative", "scale": {"domain": [0, 1], "nice": false, "zero": false}, "axis": null}, "y2": {"datum": 1}}},
    {"mark": {"type": "text", "fontSize": 28, "fontWeight": "bold", "align": "center", "baseline": "middle"},
     "encoding": {"x": {"datum": 0.481, "type": "quantitative"}, "y": {"datum": 0.49, "type": "quantitative"}, "text": {"field": "mean", "type": "quantitative"}}},
    {"mark": {"type": "rect", "color": "black"},
     "encoding": {"x": {"datum": -0.097, "type": "quantitative"}, "x2": {"datum": 0.767}, "y": {"datum": 1.034, "type": "quantitative"}, "y2": {"datum": 1.093}}},
    {"mark": {"type": "rect", "fill": "white", "stroke": "black", "strokeWidth": 1},
     "encoding": {"x": {"datum": -0.115, "type": "quantitative"}, "x2": {"datum": 0.749}, "y": {"datum": 1.053, "type": "quantitative"}, "y2": {"datum": 1.112}}},
    {"mark": {"type": "text", "fontSize": 12.5, "fontWeight": "bold", "align": "left", "baseline": "middle"},
     "encoding": {"x": {"datum": -0.106, "type": "quantitative"}, "y": {"datum": 1.082, "type": "quantitative"}, "text": {"field": "title"}}},
    {"mark": {"type": "rect", "color": "black"},
     "encoding": {"x": {"datum": 0.861, "type": "quantitative"}, "x2": {"datum": 1.116}, "y": {"datum": 0.997, "type": "quantitative"}, "y2": {"datum": 1.103}}},
    {"mark": {"type": "rect", "fill": "white", "stroke": "black", "strokeWidth": 1},
     "encoding": {"x": {"datum": 0.846, "type": "quantitative"}, "x2": {"datum": 1.1}, "y": {"datum": 1.011, "type": "quantitative"}, "y2": {"datum": 1.117}}},
    {"mark": {"type": "rule", "color": "black", "strokeWidth": 1},
     "encoding": {"x": {"datum": 0.846, "type": "quantitative"}, "x2": {"datum": 1.1}, "y": {"datum": 1.07, "type": "quantitative"}}},
    {"mark": {"type": "text", "fontSize": 8, "fontWeight": "bold", "align": "center", "baseline": "middle"},
     "encoding": {"x": {"datum": 0.975, "type": "quantitative"}, "y": {"datum": 1.092, "type": "quantitative"}, "text": {"field": "hist"}}},
    {"mark": {"type": "text", "fontSize": 7, "fontWeight": "bold", "align": "left", "baseline": "middle", "text": "Entries"},
     "encoding": {"x": {"datum": 0.86, "type": "quantitative"}, "y": {"datum": 1.045, "type": "quantitative"}}},
    {"mark": {"type": "text", "fontSize": 7, "fontWeight": "bold", "align": "right", "baseline": "middle"},
     "encoding": {"x": {"datum": 1.082, "type": "quantitative"}, "y": {"datum": 1.045, "type": "quantitative"}, "text": {"field": "entries", "type": "quantitative"}}}
   ]}
 ],
 "resolve": {"scale": {"x": "independent", "y": "independent"}}
},
{
 "width": 222, "height": 214,
 "layer": [
  {"layer": [
    {"data": {"name": "h6"},
     "mark": {"type": "line", "interpolate": "step", "color": "#0000ff", "strokeWidth": 2, "clip": true},
     "encoding": {
      "x": {"field": "x", "type": "quantitative", "scale": {"domain": [0, 128], "nice": false, "zero": false}, "axis": {"title": null, "orient": "bottom", "values": [0,20,40,60,80,100,120], "tickSize": -6, "labelPadding": 6, "format": "d"}},
      "y": {"field": "v", "type": "quantitative", "scale": {"domain": [0, 5.69], "nice": false}, "axis": {"title": null, "orient": "left", "values": [0,1,2,3,4,5], "tickSize": -6, "labelPadding": 9, "format": "~g"}}}},
    {"data": {"name": "meta"}, "transform": [{"filter": "datum.p == 6"}],
     "mark": {"type": "rule", "strokeDash": [8, 4], "strokeWidth": 1.5, "color": "black"},
     "encoding": {
      "x": {"datum": 0, "type": "quantitative", "scale": {"domain": [0, 128], "nice": false, "zero": false}, "axis": {"title": null, "orient": "bottom", "values": [0,5,10,15,20,25,30,35,40,45,50,55,60,65,70,75,80,85,90,95,100,105,110,115,120,125], "tickSize": -3, "labels": false}},
      "x2": {"datum": 128},
      "y": {"field": "mean", "type": "quantitative", "scale": {"domain": [0, 5.69], "nice": false}, "axis": {"title": null, "orient": "left", "values": [0,0.2,0.4,0.6,0.8,1,1.2,1.4,1.6,1.8,2,2.2,2.4,2.6,2.8,3,3.2,3.4,3.6,3.8,4,4.2,4.4,4.6,4.8,5,5.2,5.4,5.6], "tickSize": -3, "labels": false}}}}
   ],
   "resolve": {"axis": {"x": "independent", "y": "independent"}}},
  {"data": {"name": "meta"}, "transform": [{"filter": "datum.p == 6"}],
   "layer": [
    {"mark": {"type": "rect", "filled": false, "stroke": "black", "strokeWidth": 2},
     "encoding": {"x": {"datum": 0, "type": "quantitative", "scale": {"domain": [0, 1], "nice": false, "zero": false}, "axis": null}, "x2": {"datum": 1}, "y": {"datum": 0, "type": "quantitative", "scale": {"domain": [0, 1], "nice": false, "zero": false}, "axis": null}, "y2": {"datum": 1}}},
    {"mark": {"type": "text", "fontSize": 28, "fontWeight": "bold", "align": "center", "baseline": "middle"},
     "encoding": {"x": {"datum": 0.492, "type": "quantitative"}, "y": {"datum": 0.481, "type": "quantitative"}, "text": {"field": "mean", "type": "quantitative"}}},
    {"mark": {"type": "rect", "color": "black"},
     "encoding": {"x": {"datum": -0.097, "type": "quantitative"}, "x2": {"datum": 0.767}, "y": {"datum": 1.034, "type": "quantitative"}, "y2": {"datum": 1.093}}},
    {"mark": {"type": "rect", "fill": "white", "stroke": "black", "strokeWidth": 1},
     "encoding": {"x": {"datum": -0.115, "type": "quantitative"}, "x2": {"datum": 0.749}, "y": {"datum": 1.053, "type": "quantitative"}, "y2": {"datum": 1.112}}},
    {"mark": {"type": "text", "fontSize": 12.5, "fontWeight": "bold", "align": "left", "baseline": "middle"},
     "encoding": {"x": {"datum": -0.106, "type": "quantitative"}, "y": {"datum": 1.082, "type": "quantitative"}, "text": {"field": "title"}}},
    {"mark": {"type": "rect", "color": "black"},
     "encoding": {"x": {"datum": 0.861, "type": "quantitative"}, "x2": {"datum": 1.116}, "y": {"datum": 0.997, "type": "quantitative"}, "y2": {"datum": 1.103}}},
    {"mark": {"type": "rect", "fill": "white", "stroke": "black", "strokeWidth": 1},
     "encoding": {"x": {"datum": 0.846, "type": "quantitative"}, "x2": {"datum": 1.1}, "y": {"datum": 1.011, "type": "quantitative"}, "y2": {"datum": 1.117}}},
    {"mark": {"type": "rule", "color": "black", "strokeWidth": 1},
     "encoding": {"x": {"datum": 0.846, "type": "quantitative"}, "x2": {"datum": 1.1}, "y": {"datum": 1.07, "type": "quantitative"}}},
    {"mark": {"type": "text", "fontSize": 8, "fontWeight": "bold", "align": "center", "baseline": "middle"},
     "encoding": {"x": {"datum": 0.975, "type": "quantitative"}, "y": {"datum": 1.092, "type": "quantitative"}, "text": {"field": "hist"}}},
    {"mark": {"type": "text", "fontSize": 7, "fontWeight": "bold", "align": "left", "baseline": "middle", "text": "Entries"},
     "encoding": {"x": {"datum": 0.86, "type": "quantitative"}, "y": {"datum": 1.045, "type": "quantitative"}}},
    {"mark": {"type": "text", "fontSize": 7, "fontWeight": "bold", "align": "right", "baseline": "middle"},
     "encoding": {"x": {"datum": 1.082, "type": "quantitative"}, "y": {"datum": 1.045, "type": "quantitative"}, "text": {"field": "entries", "type": "quantitative"}}}
   ]}
 ],
 "resolve": {"scale": {"x": "independent", "y": "independent"}}
}
],
"config": {
 "view": {"stroke": null},
 "font": "Liberation Sans",
 "numberFormat": "~g",
 "axis": {"domain": false, "grid": false, "labelFont": "Liberation Sans", "labelFontWeight": "bold", "labelFontSize": 10, "labelColor": "black", "tickColor": "black", "tickWidth": 1, "labelFlush": false, "labelOverlap": false},
 "text": {"font": "Liberation Sans", "color": "black"}
}
}
